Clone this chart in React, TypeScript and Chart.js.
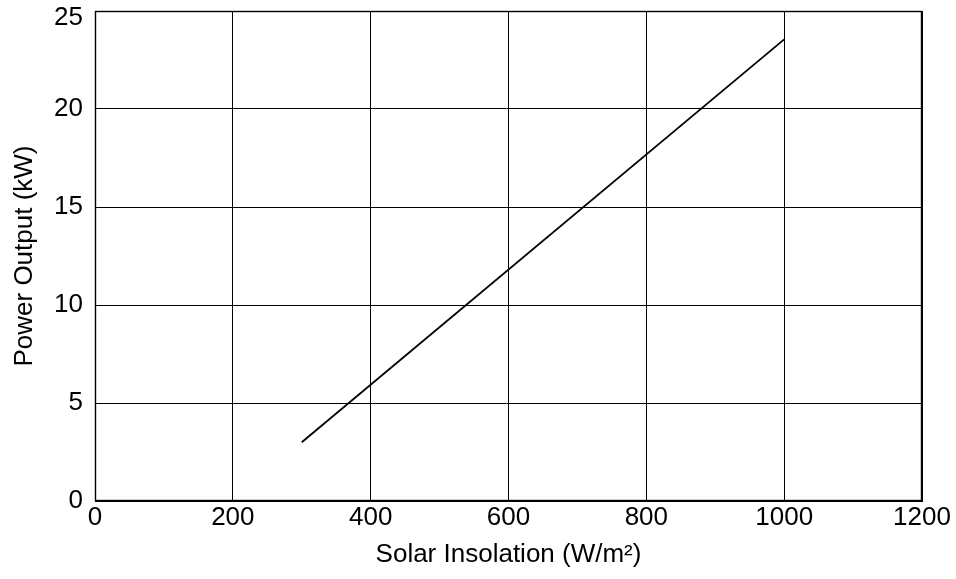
import React, { useEffect, useRef } from "react";
import { Chart, registerables } from "chart.js";

Chart.register(...registerables);

// PV array output versus solar insolation
const insolation = [300, 1000]; // W/m²
const powerOutput = [3.0, 23.55]; // kW

const xTicks = [0, 200, 400, 600, 800, 1000, 1200];
const yTicks = [0, 5, 10, 15, 20, 25];

const FONT = "'Liberation Sans', Arial, Helvetica, sans-serif";
const FONT_SIZE = 26;
const Y_MAX = yTicks[yTicks.length - 1];

// Closes the plot box and places the top y label just inside the canvas
const frameBox = {
  id: "frameBox",
  afterDraw(chart: any) {
    const { ctx, chartArea } = chart;
    const l = Math.round(chartArea.left) + 0.5;
    const t = Math.round(chartArea.top) + 0.5;
    const r = Math.round(chartArea.right) - 0.5;
    const b = Math.round(chartArea.bottom) - 0.5;
    ctx.save();
    ctx.strokeStyle = "#000";
    ctx.lineWidth = 1.4;
    ctx.strokeRect(l, t, r - l, b - t);

    const yScale = chart.scales.y;
    ctx.fillStyle = "#000";
    ctx.font = `${FONT_SIZE}px ${FONT}`;
    ctx.textAlign = "right";
    ctx.textBaseline = "middle";
    ctx.fillText(String(Y_MAX), yScale.right - 12, yScale.getPixelForValue(Y_MAX) + 7);
    ctx.restore();
  },
};

export default function App() {
  const canvasRef = useRef<HTMLCanvasElement | null>(null);

  useEffect(() => {
    if (!canvasRef.current) return;
    const points = insolation.map((x, i) => ({ x, y: powerOutput[i] }));
    const chart = new Chart(canvasRef.current, {
      type: "scatter",
      data: {
        datasets: [
          {
            data: points,
            showLine: true,
            borderColor: "#000",
            borderWidth: 1.8,
            pointRadius: 0,
            fill: false,
          },
        ],
      },
      options: {
        animation: false,
        responsive: true,
        maintainAspectRatio: false,
        layout: { padding: { top: 11, right: 34, left: 0, bottom: 0 } },
        plugins: {
          legend: { display: false },
          tooltip: { enabled: false },
        },
        scales: {
          x: {
            type: "linear",
            min: 0,
            max: 1200,
            afterBuildTicks: (scale: any) => {
              scale.ticks = xTicks.map((v) => ({ value: v }));
            },
            afterFit: (scale: any) => {
              scale.height = 78;
              scale.paddingLeft = 0;
              scale.paddingRight = 0;
            },
            grid: { color: "#000", lineWidth: 1, drawTicks: false },
            border: { display: true, color: "#000", width: 1 },
            ticks: {
              color: "#000",
              padding: 1,
              maxRotation: 0,
              autoSkip: false,
              font: { family: FONT, size: FONT_SIZE },
              callback: (v: any) => String(v),
            },
            title: {
              display: true,
              text: "Solar Insolation (W/m²)",
              color: "#000",
              font: { family: FONT, size: FONT_SIZE },
              padding: { top: 0, bottom: 9 },
            },
          },
          y: {
            type: "linear",
            min: 0,
            max: Y_MAX,
            afterBuildTicks: (scale: any) => {
              scale.ticks = yTicks.map((v) => ({ value: v }));
            },
            afterFit: (scale: any) => {
              scale.width = 95;
              scale.paddingTop = 0;
              scale.paddingBottom = 0;
            },
            grid: { color: "#000", lineWidth: 1, drawTicks: false },
            border: { display: true, color: "#000", width: 1 },
            ticks: {
              color: "#000",
              padding: 12,
              autoSkip: false,
              font: { family: FONT, size: FONT_SIZE },
              // the top label is drawn by frameBox, nudged down into view
              callback: (v: any) => (v === Y_MAX ? "" : String(v)),
            },
            title: {
              display: true,
              text: "Power Output (kW)",
              color: "#000",
              font: { family: FONT, size: FONT_SIZE },
              padding: { top: 9, bottom: 0 },
            },
          },
        },
      },
      plugins: [frameBox],
    });
    return () => chart.destroy();
  }, []);

  return (
    <div
      style={{
        position: "absolute",
        left: 0,
        top: 0,
        width: 956,
        height: 579,
        background: "#fff",
      }}
    >
      <canvas ref={canvasRef} />
    </div>
  );
}
